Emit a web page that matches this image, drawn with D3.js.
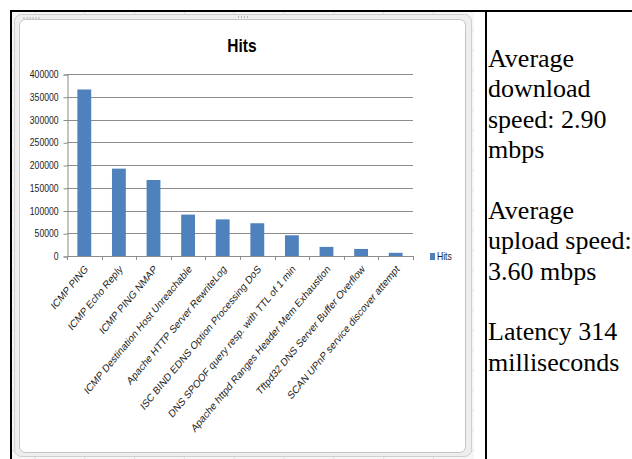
<!DOCTYPE html>
<html>
<head>
<meta charset="utf-8">
<script src="https://cdn.jsdelivr.net/npm/d3@7"></script>
</head>
<body style="margin:0">
<svg id="page" width="632" height="459"></svg>
<script>
// Snort alert counts by signature
const categories = [
  "ICMP PING",
  "ICMP Echo Reply",
  "ICMP PING NMAP",
  "ICMP Destination Host Unreachable",
  "Apache HTTP Server RewriteLog",
  "ISC BIND EDNS Option Processing DoS",
  "DNS SPOOF query resp. with TTL of 1 min",
  "Apache httpd Ranges Header Mem Exhaustion",
  "Tftpd32 DNS Server Buffer Overflow",
  "SCAN UPnP service discover attempt"
];
const hits = [366000, 192000, 167000, 91000, 80500, 72000, 45500, 20000, 15500, 7000];
const yTicks = [0, 50000, 100000, 150000, 200000, 250000, 300000, 350000, 400000];
const seriesName = "Hits";

// Network measurements shown beside the chart
const notes = [
  ["Average", "download", "speed: 2.90", "mbps"],
  ["Average", "upload speed:", "3.60 mbps"],
  ["Latency 314", "milliseconds"]
];

const svg = d3.select("#page");
const chartFont = "\"Liberation Sans\"";
const serifFont = "\"Liberation Serif\"";
const stretch = 1.2; // chart object is taller than its native aspect

// ---- spreadsheet backdrop behind the embedded chart ----
svg.append("rect").attr("x", 12).attr("y", 12).attr("width", 462).attr("height", 447)
  .attr("fill", "#f6f6f6");
const colLines = d3.range(35, 470, 49.8);
svg.append("g").selectAll("line").data(colLines).join("line")
  .attr("x1", d => d).attr("x2", d => d).attr("y1", 12).attr("y2", 459)
  .attr("stroke", "#dedede").attr("stroke-width", 1);
const rowLines = d3.range(30, 459, 20);
svg.append("g").selectAll("line").data(rowLines).join("line")
  .attr("x1", 12).attr("x2", 474).attr("y1", d => d + 0.5).attr("y2", d => d + 0.5)
  .attr("stroke", "#e2e2e2").attr("stroke-width", 1);

// chart object border (outer and inner frame)
svg.append("rect").attr("x", 14.5).attr("y", 14.5).attr("width", 457).attr("height", 442)
  .attr("rx", 7).attr("fill", "#eeeeee").attr("stroke", "#cfcfcf");
svg.append("rect").attr("x", 19.5).attr("y", 19.5).attr("width", 446).attr("height", 433)
  .attr("rx", 6).attr("fill", "#ffffff").attr("stroke", "#c4c4c4");
// small handle dots on the frame
svg.append("g").selectAll("circle").data([24, 27, 30, 33, 36, 39]).join("circle")
  .attr("cx", d => d).attr("cy", 18).attr("r", 0.7).attr("fill", "#8a9bb3");
svg.append("g").selectAll("rect").data([238, 241, 244, 247]).join("rect")
  .attr("x", d => d).attr("y", 16).attr("width", 1).attr("height", 2).attr("fill", "#b8b8b8");

// ---- plot ----
const plot = { left: 67, right: 413, top: 74, bottom: 256 };

const x = d3.scaleBand()
  .domain(categories)
  .range([plot.left, plot.right])
  .paddingInner(0.6)
  .paddingOuter(0.3);
const xEdges = d3.scaleLinear().domain([0, categories.length]).range([plot.left, plot.right]);

const y = d3.scaleLinear().domain([0, 400000]).range([plot.bottom, plot.top]);

// horizontal gridlines
svg.append("g").selectAll("line").data(yTicks.filter(v => v > 0)).join("line")
  .attr("x1", plot.left).attr("x2", plot.right)
  .attr("y1", d => Math.round(y(d)) + 0.5).attr("y2", d => Math.round(y(d)) + 0.5)
  .attr("stroke", "#8c8c8c").attr("stroke-width", 1);

// y axis
const yAxis = svg.append("g")
  .attr("transform", `translate(${plot.left + 0.5},0.5)`)
  .call(d3.axisLeft(y).tickValues(yTicks).tickFormat(d3.format("d")).tickSize(4).tickPadding(5));
yAxis.attr("font-family", null).attr("font-size", null);
yAxis.select(".domain").attr("stroke", "#8c8c8c");
yAxis.selectAll(".tick line").attr("stroke", "#8c8c8c");
yAxis.selectAll(".tick text")
  .style("font-family", chartFont).style("font-size", "8.6px").attr("fill", "#222")
  .attr("dy", null)
  .attr("transform", `translate(0,3.1) scale(1,${stretch})`);

// bars
svg.append("g").selectAll("rect").data(hits).join("rect")
  .attr("x", (d, i) => x(categories[i]))
  .attr("width", x.bandwidth())
  .attr("y", d => y(d))
  .attr("height", d => y(0) - y(d))
  .attr("fill", "#4f81bd");

// x axis line with category boundary ticks
svg.append("line")
  .attr("x1", plot.left).attr("x2", plot.right + 0.5)
  .attr("y1", plot.bottom + 0.5).attr("y2", plot.bottom + 0.5)
  .attr("stroke", "#8c8c8c");
svg.append("g").selectAll("line").data(d3.range(categories.length + 1)).join("line")
  .attr("x1", i => Math.round(xEdges(i)) + 0.5).attr("x2", i => Math.round(xEdges(i)) + 0.5)
  .attr("y1", plot.bottom).attr("y2", plot.bottom + 4)
  .attr("stroke", "#8c8c8c");

// rotated category labels
svg.append("g").selectAll("text").data(categories).join("text")
  .attr("transform", d => `translate(${x(d) + x.bandwidth() / 2 + 2},${plot.bottom + 11}) scale(1,${stretch}) rotate(-45)`)
  .attr("text-anchor", "end")
  .attr("dy", "0.35em")
  .style("font-family", chartFont).style("font-size", "9.2px").attr("fill", "#222")
  .text(d => d);

// title
svg.append("text")
  .attr("transform", `translate(242,52) scale(1,${stretch})`)
  .attr("text-anchor", "middle")
  .style("font-family", chartFont).style("font-weight", "bold").style("font-size", "15.5px")
  .attr("fill", "#000")
  .text(seriesName);

// legend
const legend = svg.append("g").attr("transform", "translate(430,256.5)");
legend.append("rect").attr("x", 0).attr("y", -3.5).attr("width", 5).attr("height", 7).attr("fill", "#4f81bd");
legend.append("text").attr("x", 7).attr("y", 0).attr("dy", "0.35em")
  .attr("transform", `scale(1,${stretch})`)
  .style("font-family", chartFont).style("font-size", "8.6px").attr("fill", "#222")
  .text(seriesName);

// ---- table rules ----
svg.append("rect").attr("x", 10).attr("y", 10).attr("width", 622).attr("height", 2).attr("fill", "#000");
svg.append("rect").attr("x", 10).attr("y", 10).attr("width", 2).attr("height", 449).attr("fill", "#000");
svg.append("rect").attr("x", 485).attr("y", 10).attr("width", 2).attr("height", 449).attr("fill", "#000");

// ---- measurement notes ----
const lineH = 30.4;
let line = 0;
const noteLines = [];
notes.forEach(block => {
  block.forEach(t => { noteLines.push({ t, k: line }); line++; });
  line++;
});
svg.selectAll("text.note").data(noteLines).join("text")
  .attr("class", "note")
  .attr("x", 488).attr("y", d => 66.7 + d.k * lineH)
  .style("font-family", d => serifFont)
  .attr("font-size", 26)
  .attr("fill", "#000")
  .text(d => d.t);
</script>
</body>
</html>
